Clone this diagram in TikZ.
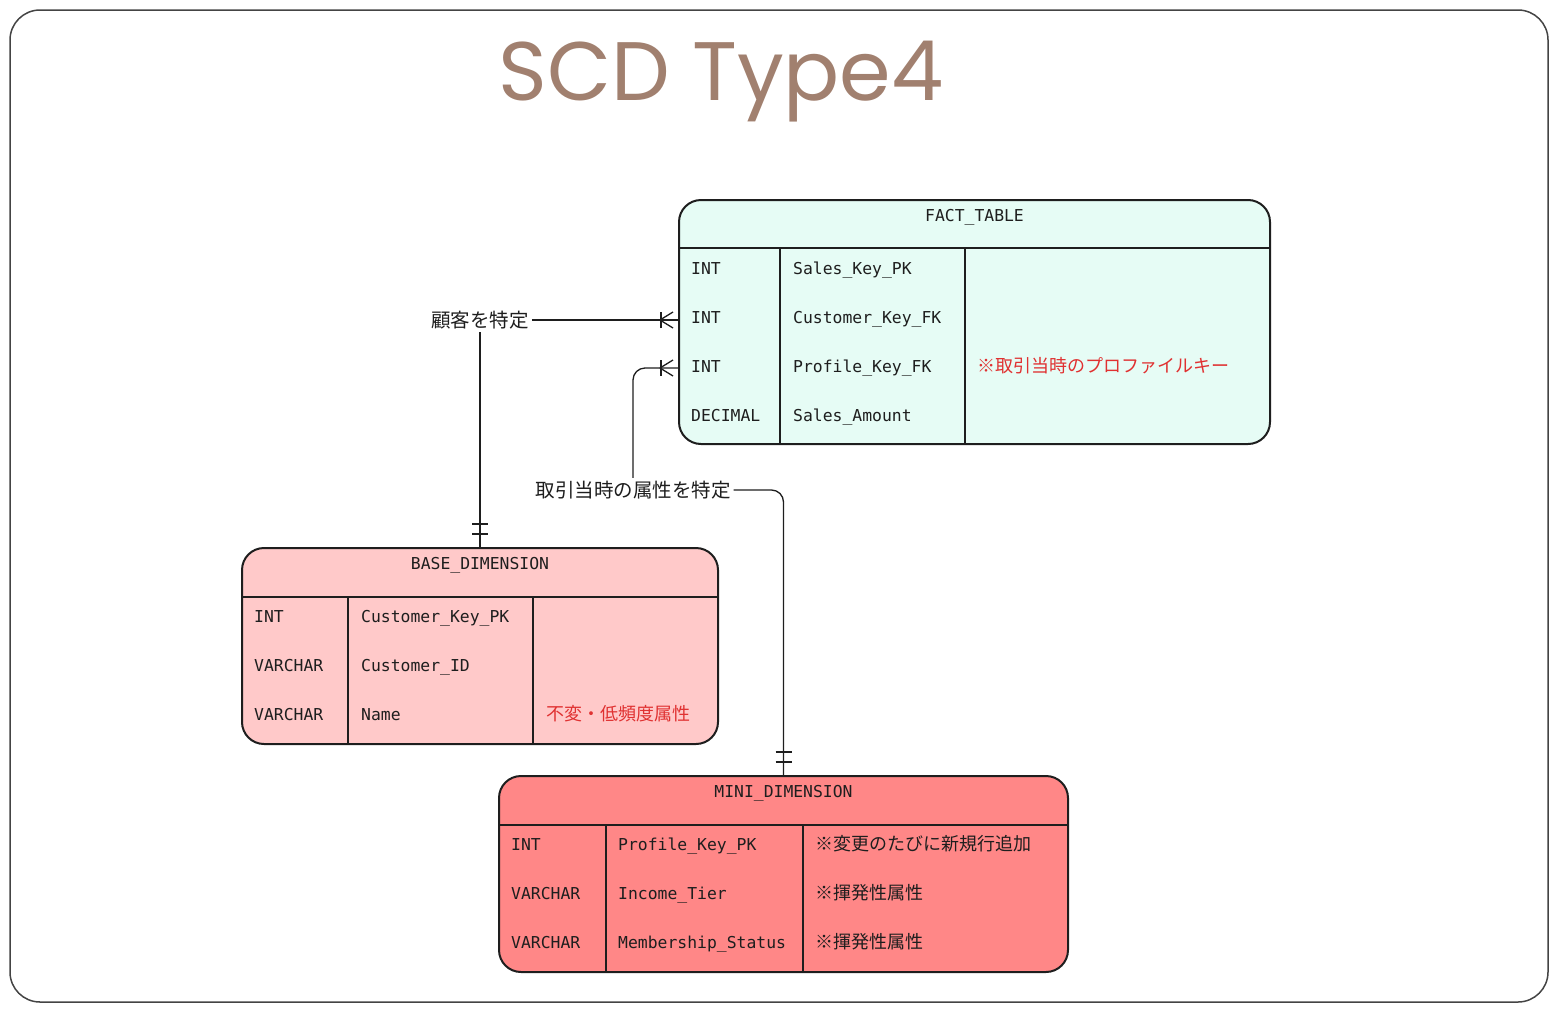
\documentclass[tikz,border=0pt]{standalone}
\usepackage{fontspec}
\usepackage{tikz}
\setmonofont{DejaVu Sans Mono}
\newfontfamily\jp{Noto Sans CJK JP}
\newfontfamily\titlefont{Poppins}
\definecolor{ink}{HTML}{1E1E1E}
\definecolor{frame}{HTML}{444444}
\definecolor{mint}{HTML}{E6FCF5}
\definecolor{pinkfill}{HTML}{FFC9C9}
\definecolor{redfill}{HTML}{FF8787}
\definecolor{notered}{HTML}{E03131}
\definecolor{titlebrown}{HTML}{A1806F}
\usetikzlibrary{positioning, calc}

\tikzset{
    manymark/.pic={
        \draw[mk] (-18pt,0) -- (-5pt,8pt) (-18pt,0) -- (-5pt,-8pt);
        \draw[mk] (-17pt,-8pt) -- (-17pt,8pt);
    },
    onemark/.pic={
        \draw[mk] (-8pt,13pt) -- (8pt,13pt) (-8pt,23pt) -- (8pt,23pt);
    }
}

\begin{document}
\begin{tikzpicture}[
    x=1pt, y=-1pt,
    tbl/.style={draw=ink, line width=2pt, rounded corners=22pt, fill=#1,
                inner sep=0pt},
    hdr/.style={anchor=base, inner sep=0pt, text=ink,
                font=\ttfamily\fontsize{16.4}{18}\selectfont},
    cell/.style={anchor=base west, inner sep=0pt, text=ink,
                 font=\ttfamily\fontsize{16.4}{18}\selectfont},
    note/.style={anchor=base west, inner sep=0pt, text=#1,
                 font=\jp\fontsize{18}{22}\selectfont},
    hline/.style={draw=ink, line width=2.2pt},
    vline/.style={draw=ink, line width=1.5pt},
    rel/.style={draw=ink, line width=1.3pt},
    mk/.style={draw=ink, line width=1.3pt},
    lbl/.style={fill=white, inner sep=3pt, text=ink,
                font=\jp\fontsize{19.5}{22}\selectfont}
]
    \useasboundingbox (0,0) rectangle (1558,1012);
    \draw[frame, line width=1.5pt, rounded corners=30pt] (10,10) rectangle (1548,1002);

    % title
    \node[anchor=base, inner sep=0pt, text=titlebrown,
          font=\titlefont\fontsize{83}{90}\selectfont] (title) at (721,100) {SCD Type4};

    % FACT_TABLE
    \node[tbl=mint, minimum width=591pt, minimum height=244pt] (fact) at (974.5,322) {};
    \node[hdr] (fact-h) at (974.5,221) {FACT\_TABLE};
    \draw[hline] (679,248) -- (1270,248);
    \draw[vline] (780,248) -- (780,444);
    \draw[vline] (965,248) -- (965,444);
    \foreach \t/\n [count=\i] in {INT/Sales\_Key\_PK, INT/Customer\_Key\_FK,
                                 INT/Profile\_Key\_FK, DECIMAL/Sales\_Amount} {
        \node[cell] (fct-t\i) at (691,{274+49*(\i-1)}) {\t};
        \node[cell] (fct-n\i) at (793,{274+49*(\i-1)}) {\n};
    }
    \node[note=notered] (fct-c3) at (977,372.5) {※取引当時のプロファイルキー};

    % BASE_DIMENSION
    \node[tbl=pinkfill, minimum width=476pt, minimum height=196pt] (base) at (480,646) {};
    \node[hdr] (base-h) at (480,569) {BASE\_DIMENSION};
    \draw[hline] (242,597) -- (718,597);
    \draw[vline] (348,597) -- (348,744);
    \draw[vline] (533,597) -- (533,744);
    \foreach \t/\n [count=\i] in {INT/Customer\_Key\_PK, VARCHAR/Customer\_ID,
                                 VARCHAR/Name} {
        \node[cell] (bas-t\i) at (254,{622+49*(\i-1)}) {\t};
        \node[cell] (bas-n\i) at (361,{622+49*(\i-1)}) {\n};
    }
    \node[note=notered] (bas-c3) at (546,720.5) {不変・低頻度属性};

    % MINI_DIMENSION
    \node[tbl=redfill, minimum width=569pt, minimum height=196pt] (mini) at (783.5,874) {};
    \node[hdr] (mini-h) at (783.5,797) {MINI\_DIMENSION};
    \draw[hline] (499,825) -- (1068,825);
    \draw[vline] (606,825) -- (606,972);
    \draw[vline] (803,825) -- (803,972);
    \foreach \t/\n/\c [count=\i] in {INT/Profile\_Key\_PK/※変更のたびに新規行追加,
                                    VARCHAR/Income\_Tier/※揮発性属性,
                                    VARCHAR/Membership\_Status/※揮発性属性} {
        \node[cell] (min-t\i) at (511,{850+49*(\i-1)}) {\t};
        \node[cell] (min-n\i) at (618,{850+49*(\i-1)}) {\n};
        \node[note=ink] (min-c\i) at (815,{850.5+49*(\i-1)}) {\c};
    }

    % relations
    \node[lbl] (lbl1) at (480,320) {顧客を特定};
    \node[lbl] (lbl2) at (633,490) {取引当時の属性を特定};

    \draw[rel] (lbl1.east) -- (fact.west |- lbl1.east);
    \draw[rel] (lbl1.south) -- (base.north);
    \draw[rel, rounded corners=12pt] (lbl2.east) -| (mini.north);
    \draw[rel, rounded corners=12pt] (lbl2.north) |- (fact.west |- 0,368);

    \pic at (fact.west |- lbl1.east) {manymark};
    \pic at (fact.west |- 0,368) {manymark};
    \pic at (base.north) {onemark};
    \pic at (mini.north) {onemark};
\end{tikzpicture}
\end{document}
